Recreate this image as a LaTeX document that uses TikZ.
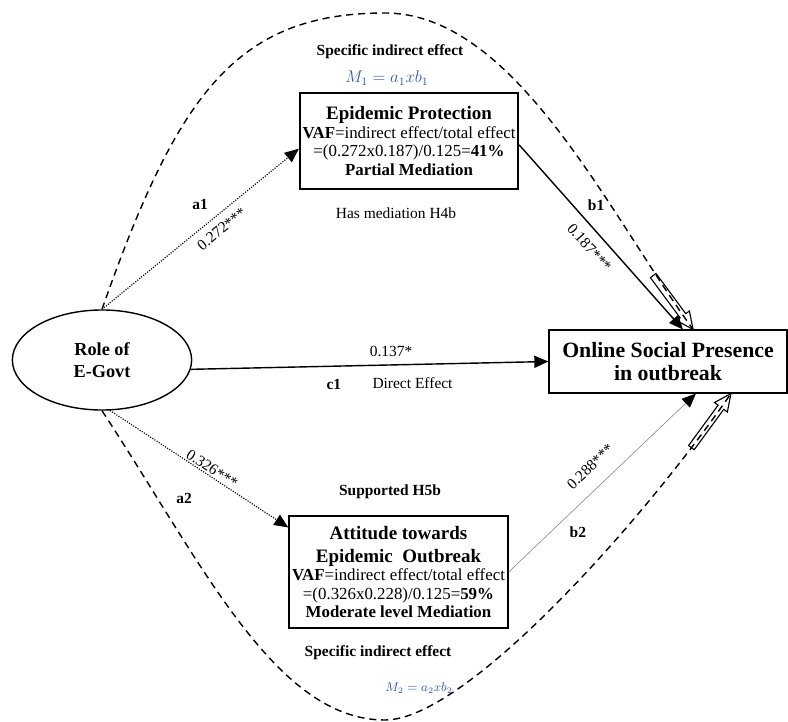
\documentclass[tikz,border=0pt]{standalone}
\usepackage{fontspec}
\setmainfont{Liberation Serif}
\usetikzlibrary{arrows.meta,shapes.geometric}
\definecolor{mathblue}{RGB}{52,88,160}

\begin{document}
\begin{tikzpicture}[x=0.025cm,y=-0.025cm,
    lbl/.style={font=\fontsize{11}{13}\selectfont,text=black},
    blbl/.style={font=\fontsize{11}{13}\selectfont\bfseries,text=black},
    tip/.style={-{Triangle[length=10pt,width=8.5pt,color=black]}},
    arrowdot/.style={densely dotted,line width=0.8pt,tip},
    arrowsolid/.style={line width=1pt,tip},
    arrowthin/.style={gray,line width=0.4pt,tip},
    loopline/.style={line width=1pt,dash pattern=on 5pt off 3.5pt},
    holarr/.pic={\draw[line width=0.8pt,solid] (0,0) -- (-17,8) -- (-17,3.5)
      -- (-67,3.5) -- (-67,-3.5) -- (-17,-3.5) -- (-17,-8) -- cycle;}]

  \useasboundingbox (0,0) rectangle (788,722);

  \begin{scope}[every node/.style={draw,align=center,inner sep=2pt}]
    \node[ellipse,line width=1pt,minimum width=4.48cm,minimum height=2.5cm,
      font=\fontsize{13}{15.5}\selectfont\bfseries] (gov) at (102,360) {Role of\\E-Govt};
    \node[line width=1.3pt,minimum width=5.45cm,minimum height=2.4cm,
      font=\fontsize{12}{13.2}\selectfont] (epi) at (409,141)
      {{\fontsize{13.5}{15}\selectfont\bfseries Epidemic Protection}\\
       \textbf{VAF}=indirect effect/total effect\\
       =(0.272x0.187)/0.125=\textbf{41\%}\\
       \textbf{Partial Mediation}};
    \node[line width=1.3pt,minimum width=5.425cm,minimum height=2.8cm,
      font=\fontsize{12}{13.2}\selectfont] (att) at (398.5,572)
      {{\fontsize{13.5}{15.5}\selectfont\bfseries Attitude towards}\\[3pt]
       {\fontsize{13.5}{15.5}\selectfont\bfseries Epidemic\ \ Outbreak}\\
       \textbf{VAF}=indirect effect/total effect\\
       =(0.326x0.228)/0.125=\textbf{59\%}\\
       \textbf{Moderate level Mediation}};
    \node[line width=0.8pt,minimum width=5.95cm,minimum height=1.575cm,
      font=\fontsize{15.5}{16.5}\selectfont\bfseries] (osp) at (668,361.5)
      {Online Social Presence\\in outbreak};
  \end{scope}

  % texts round the boxes
  \node[blbl] (spec1) at (390,52) {Specific indirect effect};
  \node[text=mathblue,font=\fontsize{12}{14}\selectfont] (m1) at (387,78) {$M_1 = a_1xb_1$};
  \node[lbl] (h4b) at (396,213) {Has mediation H4b};
  \node[blbl] (h5b) at (390,492) {Supported H5b};
  \node[blbl] (spec2) at (378,653) {Specific indirect effect};
  \node[text=mathblue,font=\fontsize{9}{11}\selectfont] (m2) at (419,688) {$M_2 = a_2xb_2$};

  % indirect effect loops
  \draw[loopline] (gov.north) .. controls (177,96) and (235,13) .. (385,13)
    .. controls (515,13) and (609,214) .. (osp.52);
  \draw[loopline] (gov.south) .. controls (202,563) and (275,720) .. (385,720)
    .. controls (465,720) and (640,525) .. (osp.-27);
  \pic[rotate=-53.5] (up1) at (osp.52) {holarr};
  \pic[rotate=53.8] (up2) at (osp.-27) {holarr};

  \begin{scope}[every edge/.style={draw}]
    \path (gov.north) edge[arrowdot]
      node[blbl,pos=.56,xshift=-8.7pt,yshift=10.6pt] {a1}
      node[lbl,pos=.565,sloped,below=2pt] {0.272***} (epi.184);
    \path (epi.-2) edge[arrowsolid]
      node[blbl,pos=.39,xshift=9.3pt,yshift=8.3pt] {b1}
      node[lbl,pos=.5,sloped,below=3.6pt] {0.187***} (osp.65);
    \path (gov.-6) edge[arrowsolid]
      node[lbl,pos=.56,above=2.3pt] {0.137*}
      node[blbl,pos=.4,below=5.7pt] {c1}
      node[lbl,pos=.62,below=5.7pt] {Direct Effect} (osp.west);
    \path (gov.-81) edge[arrowdot]
      node[lbl,pos=.55,sloped,above,inner sep=1pt] {0.326***}
      node[blbl,pos=.52,xshift=-13.2pt,yshift=-19.5pt] {a2} (att.158);
    \path (att.east) edge[arrowthin]
      node[lbl,pos=.51,sloped,above=7pt] {0.288***}
      node[blbl,pos=.3,xshift=9.3pt,yshift=-9.7pt] {b2} (osp.-49);
  \end{scope}

\end{tikzpicture}
\end{document}
